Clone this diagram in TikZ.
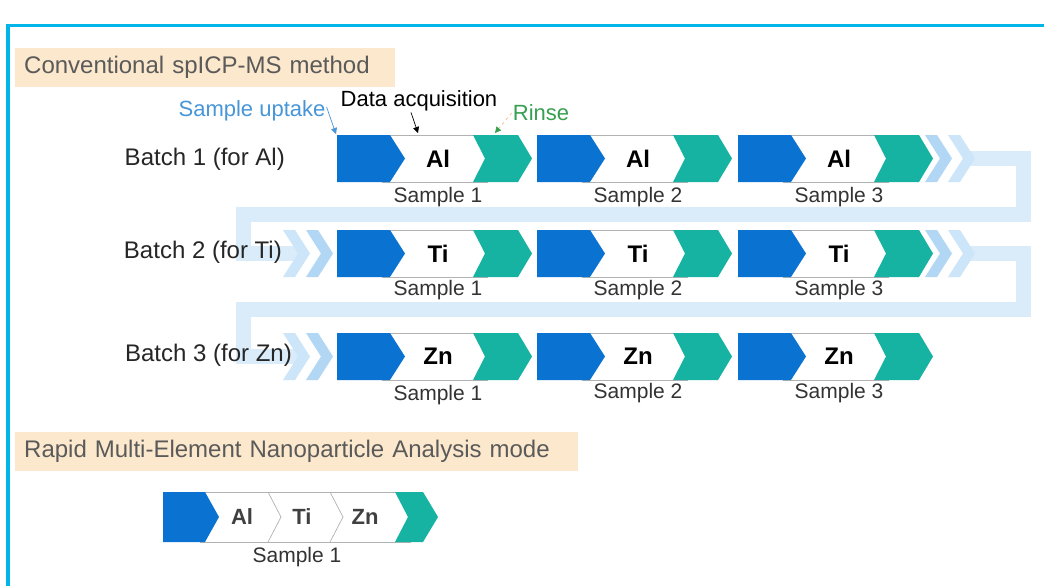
\documentclass[tikz,border=0pt]{standalone}
\usepackage{fontspec}
\setmainfont{Liberation Sans}
\usepackage{tikz}
\usetikzlibrary{arrows.meta}

\definecolor{framecyan}{RGB}{0,182,232}
\definecolor{hdrbeige}{RGB}{252,232,204}
\definecolor{hdrgray}{RGB}{90,90,90}
\definecolor{uptakeblue}{RGB}{10,115,210}
\definecolor{rinseteal}{RGB}{22,178,162}
\definecolor{pipeblue}{RGB}{218,236,250}
\definecolor{chevdark}{RGB}{178,215,245}
\definecolor{chevlight}{RGB}{204,229,249}
\definecolor{uptaketext}{RGB}{72,150,215}
\definecolor{rinsetext}{RGB}{55,160,80}
\definecolor{rinsedash}{RGB}{240,190,150}

% one sample: uptake block, acquisition window, rinse block
% #1 name, #2 x left, #3 y top, #4 element
\newcommand{\sampleunit}[4]{%
  \filldraw[fill=white, draw=gray!60, line width=0.8pt] (#2+45,#3) rectangle (#2+150,#3+47);
  \fill[uptakeblue] (#2,#3) -- (#2+53,#3) -- (#2+68,#3+23.5) -- (#2+53,#3+47) -- (#2,#3+47) -- cycle;
  \fill[rinseteal] (#2+136,#3) -- (#2+181,#3) -- (#2+195,#3+23.5) -- (#2+181,#3+47)
    -- (#2+136,#3+47) -- (#2+148,#3+23.5) -- cycle;
  \node[elem] (#1) at (#2+101,#3+23.5) {#4};
}
% light flow chevron between batches: #1 x, #2 y top, #3 colour
\newcommand{\flowchev}[3]{%
  \fill[#3] (#1,#2) -- (#1+12,#2) -- (#1+27,#2+23.5) -- (#1+12,#2+47) -- (#1,#2+47)
    -- (#1+15,#2+23.5) -- cycle;
}

\begin{document}
\begin{tikzpicture}[
  x=1pt, y=-1pt,
  hdr/.style={rectangle, fill=hdrbeige, anchor=north west, inner xsep=9pt, inner ysep=0pt,
    minimum height=39pt, align=left, text=hdrgray, font=\fontsize{24}{28}\selectfont},
  batchlbl/.style={anchor=east, inner sep=0pt, text=black!85, font=\fontsize{24}{28}\selectfont},
  elem/.style={inner sep=0pt, font=\fontsize{24}{28}\selectfont\bfseries},
  smplbl/.style={inner sep=0pt, text=black!80, font=\fontsize{21}{24}\selectfont},
  note/.style={inner sep=1pt, font=\fontsize{22}{26}\selectfont},
  pipe/.style={pipeblue, line width=15pt},
  pointer/.style={line width=0.7pt, -{Triangle[length=6pt,width=6pt]}}
]
  \useasboundingbox (0,0) rectangle (1044,586);
  \fill[white] (0,0) rectangle (1044,586);
  \draw[framecyan, line width=3.5pt] (8,586) -- (8,25.5) -- (1044,25.5);

  \def\ax{337} \def\bx{537} \def\cx{738}
  \def\ra{135} \def\rb{230} \def\rc{333}

  \node[hdr, text width=362pt] (conv) at (15,48) {Conventional spICP-MS method};

  % batch-to-batch flow
  \coordinate (r1out) at (965,158);
  \coordinate (r2in) at (300,253);
  \coordinate (r2out) at (965,253);
  \coordinate (r3in) at (300,356);
  \draw[pipe] (r1out) -- (1023,158) -- (1023,214) -- (243,214) -- (243,253) -- (r2in);
  \draw[pipe] (r2out) -- (1023,253) -- (1023,309) -- (243,309) -- (243,356) -- (r3in);

  \flowchev{925}{\ra}{chevdark} \flowchev{948}{\ra}{chevlight}
  \flowchev{283}{\rb}{chevlight} \flowchev{306}{\rb}{chevdark}
  \flowchev{925}{\rb}{chevdark} \flowchev{948}{\rb}{chevlight}
  \flowchev{283}{\rc}{chevlight} \flowchev{306}{\rc}{chevdark}

  % batch 1
  \node[batchlbl] (b1) at (285,159) {Batch 1 (for Al)};
  \sampleunit{a1}{\ax}{\ra}{Al}
  \sampleunit{a2}{\bx}{\ra}{Al}
  \sampleunit{a3}{\cx}{\ra}{Al}
  \node[smplbl] (sa1) at (\ax+101,\ra+62) {Sample 1};
  \node[smplbl] (sa2) at (\bx+101,\ra+62) {Sample 2};
  \node[smplbl] (sa3) at (\cx+101,\ra+62) {Sample 3};

  % batch 2
  \node[batchlbl] (b2) at (282,252) {Batch 2 (for Ti)};
  \sampleunit{t1}{\ax}{\rb}{Ti}
  \sampleunit{t2}{\bx}{\rb}{Ti}
  \sampleunit{t3}{\cx}{\rb}{Ti}
  \node[smplbl] (st1) at (\ax+101,\rb+60) {Sample 1};
  \node[smplbl] (st2) at (\bx+101,\rb+60) {Sample 2};
  \node[smplbl] (st3) at (\cx+101,\rb+60) {Sample 3};

  % batch 3
  \node[batchlbl] (b3) at (292,355) {Batch 3 (for Zn)};
  \sampleunit{z1}{\ax}{\rc}{Zn}
  \sampleunit{z2}{\bx}{\rc}{Zn}
  \sampleunit{z3}{\cx}{\rc}{Zn}
  \node[smplbl] (sz1) at (\ax+101,\rc+62) {Sample 1};
  \node[smplbl] (sz2) at (\bx+101,\rc+60) {Sample 2};
  \node[smplbl] (sz3) at (\cx+101,\rc+60) {Sample 3};

  % step annotations
  \node[note, text=uptaketext] (uptake) at (252,111) {Sample uptake};
  \node[note] (daq) at (419,101) {Data acquisition};
  \node[note, text=rinsetext] (rinse) at (541,113) {Rinse};
  \coordinate (uptaketip) at (336,134);
  \coordinate (daqtip) at (418,133);
  \coordinate (rinsetip) at (495,133);
  \draw[pointer, uptaketext] (uptake.east) ++(0,-4) -- (uptaketip);
  \draw[pointer] (daq.south) ++(-8,0) -- (daqtip);
  \draw[pointer, rinsedash, dashed, -{Triangle[length=6pt,width=6pt,color=rinsetext]}] (rinse.west) -- (rinsetip);

  % multi-element mode: one sample, all elements
  \node[hdr, text width=545pt] (rapid) at (15,432) {Rapid Multi-Element Nanoparticle Analysis mode};
  \filldraw[fill=white, draw=gray!60, line width=0.8pt] (200,492) rectangle (410,542);
  \fill[uptakeblue] (163,492) -- (205,492) -- (219,517) -- (205,542) -- (163,542) -- cycle;
  \fill[rinseteal] (395,492) -- (423,492) -- (438,517) -- (423,542) -- (395,542) -- (408,517) -- cycle;
  \draw[gray!60, line width=0.7pt] (268,492) -- (281,517) -- (268,542);
  \draw[gray!60, line width=0.7pt] (330,492) -- (343,517) -- (330,542);
  \node[elem, text=black!75, font=\fontsize{22}{26}\selectfont\bfseries] (m1) at (242,517) {Al};
  \node[elem, text=black!75, font=\fontsize{22}{26}\selectfont\bfseries] (m2) at (302,517) {Ti};
  \node[elem, text=black!75, font=\fontsize{22}{26}\selectfont\bfseries] (m3) at (365,517) {Zn};
  \node[smplbl] (sm1) at (297,557) {Sample 1};
\end{tikzpicture}
\end{document}
